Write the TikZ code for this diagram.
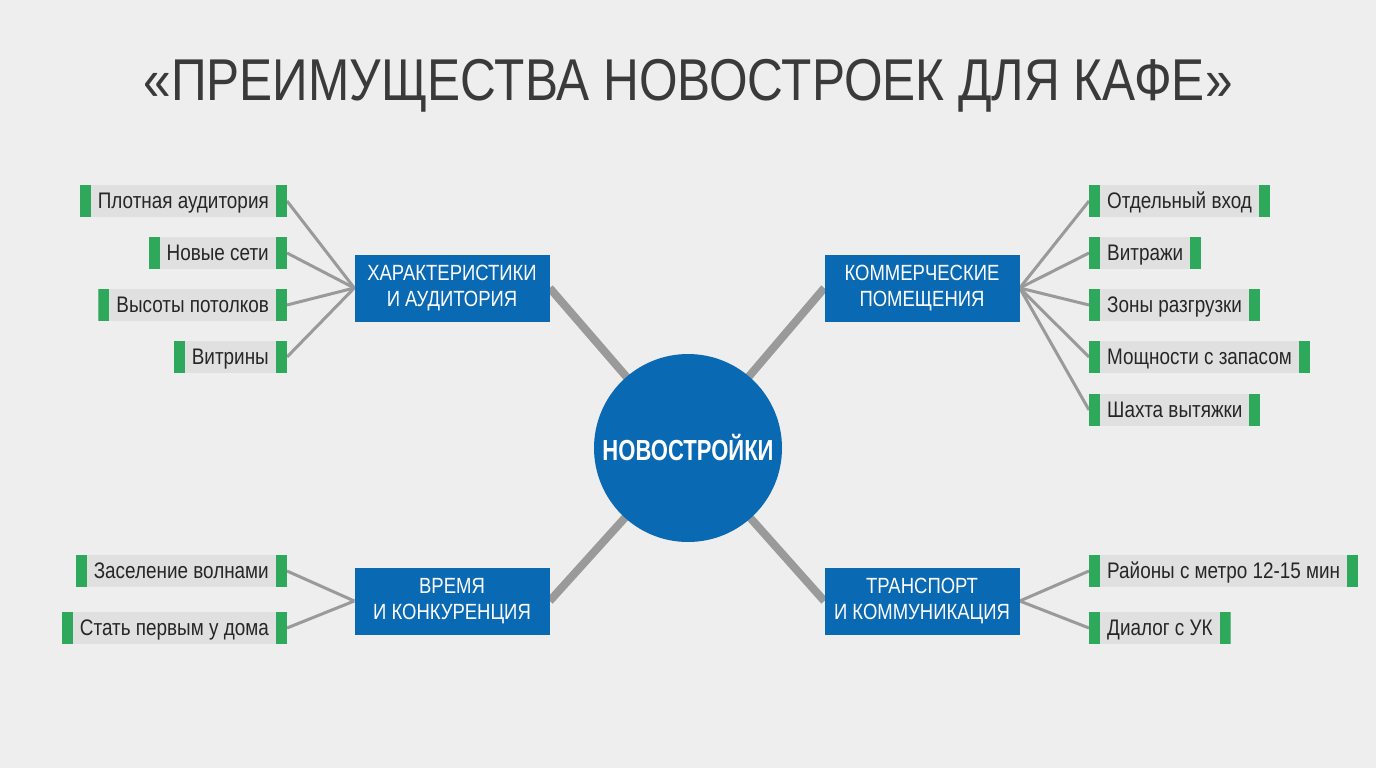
\documentclass[tikz,border=0pt]{standalone}
\usepackage{fontspec}
\usetikzlibrary{backgrounds}
\setmainfont{Liberation Sans}[FakeStretch=0.84]
\newfontfamily\hubfont{Liberation Sans Bold}[FakeStretch=0.76]
\definecolor{bg}{HTML}{EEEEEE}
\definecolor{leafbg}{HTML}{E0E0E0}
\definecolor{barg}{HTML}{2EA85A}
\definecolor{blueb}{HTML}{0A69B3}
\definecolor{linec}{HTML}{9A9A9A}
\definecolor{titlec}{HTML}{3A3A3A}
\tikzset{
  hub/.style={circle, fill=blueb, minimum size=188pt, inner sep=0pt, text=white, font=\hubfont\fontsize{29}{29}\selectfont},
  catbox/.style={rectangle, fill=blueb, minimum width=195pt, minimum height=67pt, inner sep=0pt, text=white, align=center, font=\fontsize{22}{26}\selectfont},
  leaf/.style={rectangle, fill=leafbg, minimum height=32pt, inner ysep=0pt, inner xsep=18pt, text height=17pt, text depth=3pt, text=black!85, font=\fontsize{22.5}{22.5}\selectfont,
    path picture={\fill[barg] (path picture bounding box.south west) rectangle ([xshift=11pt]path picture bounding box.north west);
                  \fill[barg] (path picture bounding box.south east) rectangle ([xshift=-11pt]path picture bounding box.north east);}},
  thick link/.style={draw=linec, line width=8pt},
  thin link/.style={draw=linec, line width=3pt}
}
\begin{document}
\begin{tikzpicture}[x=1pt,y=-1pt]
\begin{scope}[on background layer]
\fill[bg] (0,0) rectangle (1376,768);
\end{scope}
\useasboundingbox (0,0) rectangle (1376,768);

\node[text=titlec, font=\fontsize{59}{59}\selectfont] (title) at (688,86) {«ПРЕИМУЩЕСТВА НОВОСТРОЕК ДЛЯ КАФЕ»};

\node[hub] (hub) at (688,448) {НОВОСТРОЙКИ};
\node[catbox] (tl) at (452,288) {ХАРАКТЕРИСТИКИ\\И АУДИТОРИЯ};
\node[catbox] (tr) at (922,288) {КОММЕРЧЕСКИЕ\\ПОМЕЩЕНИЯ};
\node[catbox] (bl) at (452,601) {ВРЕМЯ\\И КОНКУРЕНЦИЯ};
\node[catbox] (br) at (922,601) {ТРАНСПОРТ\\И КОММУНИКАЦИЯ};

% left top leaves
\node[leaf, anchor=east] (l1) at (287,201) {Плотная аудитория};
\node[leaf, anchor=east] (l2) at (287,253) {Новые сети};
\node[leaf, anchor=east] (l3) at (287,305) {Высоты потолков};
\node[leaf, anchor=east] (l4) at (287,357) {Витрины};

% right top leaves
\node[leaf, anchor=west] (r1) at (1089,201) {Отдельный вход};
\node[leaf, anchor=west] (r2) at (1089,253) {Витражи};
\node[leaf, anchor=west] (r3) at (1089,305) {Зоны разгрузки};
\node[leaf, anchor=west] (r4) at (1089,357) {Мощности с запасом};
\node[leaf, anchor=west] (r5) at (1089,410) {Шахта вытяжки};

% bottom left leaves
\node[leaf, anchor=east] (b1) at (287,571) {Заселение волнами};
\node[leaf, anchor=east] (b2) at (287,628) {Стать первым у дома};

% bottom right leaves
\node[leaf, anchor=west] (s1) at (1089,571) {Районы с метро 12-15 мин};
\node[leaf, anchor=west] (s2) at (1089,628) {Диалог с УК};

\begin{scope}[on background layer]
\path[thick link] (tl.east) -- (hub.center);
\path[thick link] (tr.west) -- (hub.center);
\path[thick link] (bl.east) -- (hub.center);
\path[thick link] (br.west) -- (hub.center);
\foreach \n in {l1,l2,l3,l4} \path[thin link] (\n.east) -- (tl.west);
\foreach \n in {r1,r2,r3,r4,r5} \path[thin link] (\n.west) -- (tr.east);
\foreach \n in {b1,b2} \path[thin link] (\n.east) -- (bl.west);
\foreach \n in {s1,s2} \path[thin link] (\n.west) -- (br.east);
\end{scope}
\end{tikzpicture}
\end{document}
